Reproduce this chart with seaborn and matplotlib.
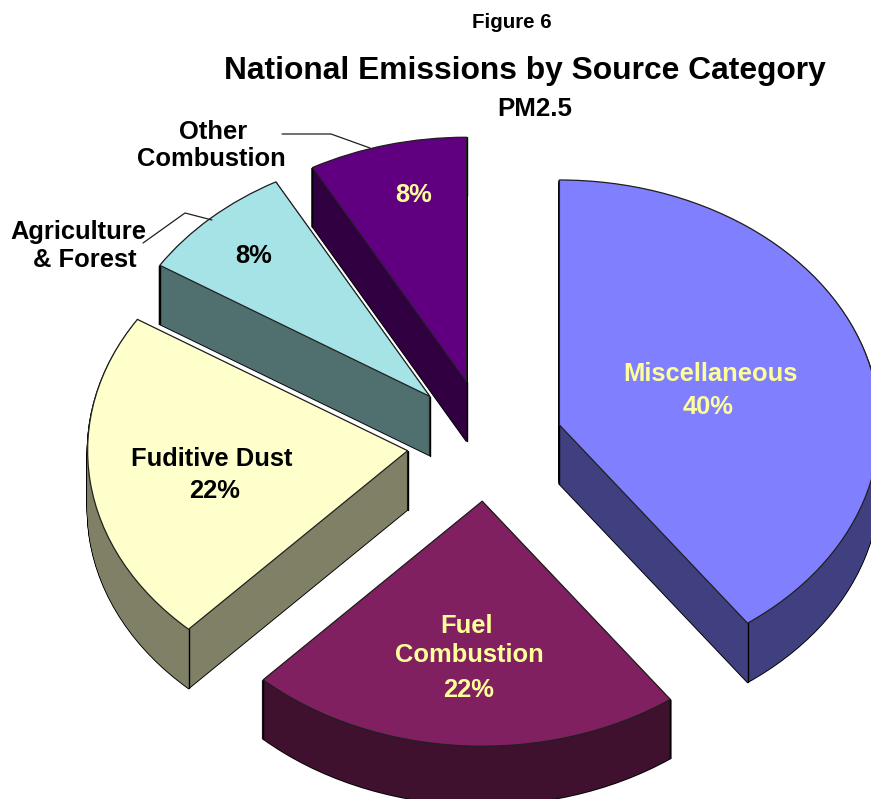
import matplotlib
matplotlib.use("Agg")
import matplotlib.pyplot as plt
import numpy as np
import seaborn as sns

categories = ["Miscellaneous", "Fuel Combustion", "Fugitive Dust", "Agriculture & Forest", "Other Combustion"]
values = [40, 22, 22, 8, 8]
explode = [0.238, 0.238, 0.25, 0.26, 0.256]
top_colors = ["#8080FF", "#802060", "#FFFFCC", "#A6E3E6", "#600080"]
side_colors = ["#404080", "#40102F", "#808066", "#507070", "#300040"]
draw_rank = [3, 4, 2, 1, 0]

W, H = 871, 799
CX, CY = 487.0, 443.0
RX, RY = 320.0, 245.0
DEPTH = 59

sns.set_theme(style="white")
plt.rcParams["font.family"] = ["Liberation Sans", "DejaVu Sans"]

fig = plt.figure(figsize=(W / 100, H / 100), dpi=100, facecolor="white")
ax = fig.add_axes([0, 0, 1, 1])


def draw_pie(dy, colors, edge, lw, layer):
    wedges, _ = ax.pie(values, explode=explode, colors=colors, startangle=90,
                       counterclock=False, center=(0, -dy / RY), radius=1,
                       wedgeprops=dict(edgecolor=edge, linewidth=lw))
    for w, r in zip(wedges, draw_rank):
        w.set_zorder(10 * r + layer)
    return wedges


for d in range(DEPTH, 0, -1):
    draw_pie(d, side_colors, "black", 1.3, 1)
for d in range(DEPTH, 0, -1):
    draw_pie(d, side_colors, "none", 0, 2)
tops = draw_pie(0, top_colors, "#202020", 0.9, 4)

# vertical edges of the extrusion
for w, r in zip(tops, draw_rank):
    cx, cy = w.center
    xs = [cx, cx + w.r * np.cos(np.radians(w.theta1)), cx + w.r * np.cos(np.radians(w.theta2))]
    ys = [cy, cy + w.r * np.sin(np.radians(w.theta1)), cy + w.r * np.sin(np.radians(w.theta2))]
    for x, y in zip(xs, ys):
        ax.plot([x, x], [y, y - DEPTH / RY], color="black", lw=1.0, zorder=10 * r + 3)

ax.set_aspect("auto")
ax.set_xlim((0 - CX) / RX, (W - CX) / RX)
ax.set_ylim((CY - H) / RY, CY / RY)
ax.axis("off")


def label(x, y, s, size, color="black", weight="bold"):
    fig.text(x / W, 1 - y / H, s, ha="center", va="center", fontsize=size,
             color=color, fontweight=weight, zorder=100)


YEL = "#FFFF99"
LBL = 18.4
label(512, 23, "Figure 6", 14.8)
label(525, 71, "National Emissions by Source Category", 22.9)
label(535, 109, "PM2.5", 18.6)
label(213, 132, "Other", LBL)
label(211, 159, "Combustion", LBL)
label(78, 232, "Agriculture", LBL)
label(85, 260, "& Forest", LBL)
label(414, 195, "8%", LBL, YEL)
label(254, 256, "8%", LBL)
label(212, 459, "Fuditive Dust", LBL)
label(215, 491, "22%", LBL)
label(710, 374, "Miscellaneous", LBL, YEL)
label(708, 407, "40%", LBL, YEL)
label(466, 626, "Fuel", LBL, YEL)
label(469, 655, "Combustion", LBL, YEL)
label(469, 690, "22%", LBL, YEL)

for xs, ys in [([282, 331, 370], [134, 134, 148]),
               ([143, 185, 212], [243, 213, 220])]:
    fig.add_artist(plt.Line2D([x / W for x in xs], [1 - y / H for y in ys],
                              color="#202020", lw=0.9, transform=fig.transFigure))

fig.savefig("out.png", dpi=100, facecolor="white")
